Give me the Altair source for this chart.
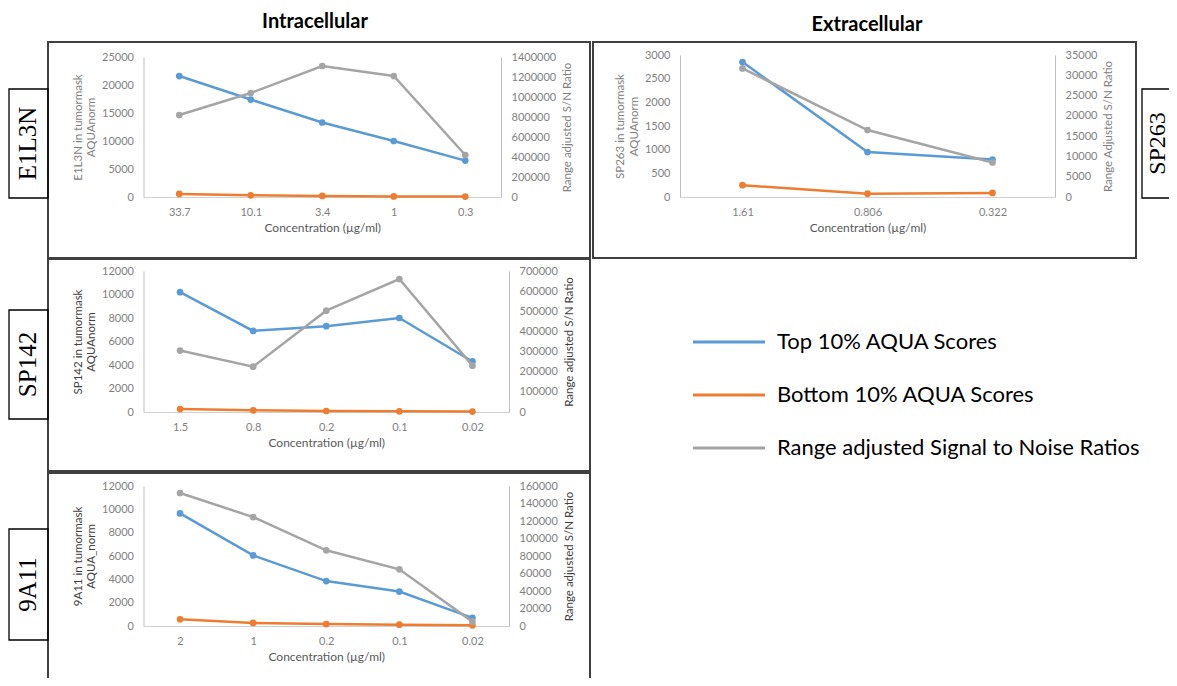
import altair as alt
import pandas as pd

# ---------------- data ----------------
series_names = ["Top 10% AQUA Scores", "Bottom 10% AQUA Scores",
                "Range adjusted Signal to Noise Ratios"]
series_colors = ["#5B9BD5", "#ED7D31", "#A5A5A5"]

e1l3n_conc = ["33.7", "10.1", "3.4", "1", "0.3"]
e1l3n_top = [21600, 17400, 13300, 10000, 6500]
e1l3n_bottom = [550, 300, 200, 100, 80]
e1l3n_snr = [820000, 1040000, 1310000, 1210000, 420000]
e1l3n_left_ticks = [0, 5000, 10000, 15000, 20000, 25000]
e1l3n_right_ticks = [0, 200000, 400000, 600000, 800000, 1000000, 1200000, 1400000]

sp263_conc = ["1.61", "0.806", "0.322"]
sp263_top = [2850, 950, 790]
sp263_bottom = [250, 70, 85]
sp263_snr = [31700, 16500, 8500]
sp263_left_ticks = [0, 500, 1000, 1500, 2000, 2500, 3000]
sp263_right_ticks = [0, 5000, 10000, 15000, 20000, 25000, 30000, 35000]

sp142_conc = ["1.5", "0.8", "0.2", "0.1", "0.02"]
sp142_top = [10200, 6900, 7300, 8000, 4300]
sp142_bottom = [250, 140, 85, 60, 40]
sp142_snr = [305000, 225000, 503000, 660000, 230000]
sp142_left_ticks = [0, 2000, 4000, 6000, 8000, 10000, 12000]
sp142_right_ticks = [0, 100000, 200000, 300000, 400000, 500000, 600000, 700000]

a9a11_conc = ["2", "1", "0.2", "0.1", "0.02"]
a9a11_top = [9650, 6050, 3850, 2950, 700]
a9a11_bottom = [570, 260, 170, 115, 60]
a9a11_snr = [152000, 124500, 86500, 64800, 5000]
a9a11_left_ticks = [0, 2000, 4000, 6000, 8000, 10000, 12000]
a9a11_right_ticks = [0, 20000, 40000, 60000, 80000, 100000, 120000, 140000, 160000]

# ---------------- layout ----------------
W, H = 1161, 670
FONT = "Lato"
AXIS_GRAY = "#BFBFBF"
LABEL_GRAY = "#7F7F7F"

color_enc = alt.Color("series:N",
                      scale=alt.Scale(domain=series_names, range=series_colors),
                      legend=None)


def panel(conc, top, bottom, snr, lticks, rticks, ltitle, rtitle, frame, title_color):
    x0, x1, yt, yb = frame
    n = len(conc)
    aqua_df = pd.DataFrame({
        "conc": conc + conc,
        "idx": list(range(n)) * 2,
        "series": [series_names[0]] * n + [series_names[1]] * n,
        "value": top + bottom,
    })
    snr_df = pd.DataFrame({
        "conc": conc,
        "idx": list(range(n)),
        "series": [series_names[2]] * n,
        "value": snr,
    })
    xscale = alt.Scale(type="point", domain=conc, range=[x0, x1], padding=0.5)
    line_kw = dict(strokeWidth=2.5,
                   point=alt.OverlayMarkDef(size=45, filled=True, opacity=1))
    aqua = alt.Chart(aqua_df).mark_line(**line_kw).encode(
        x=alt.X("conc:N", scale=xscale,
                axis=alt.Axis(orient="bottom", offset=yb - H, title="Concentration (µg/ml)",
                              labelAngle=0, ticks=False, domainColor="#D0D0D0",
                              labelColor=LABEL_GRAY, labelFont=FONT, labelFontSize=11,
                              labelPadding=9, titleFont=FONT, titleFontSize=12,
                              titleFontWeight="normal", titleColor="#595959",
                              titlePadding=5)),
        y=alt.Y("value:Q", scale=alt.Scale(domain=[0, lticks[-1]], range=[yb, yt]),
                axis=alt.Axis(orient="left", offset=-x0, values=lticks, format="d",
                              title=ltitle, grid=False, ticks=False,
                              domainColor=AXIS_GRAY, labelColor=LABEL_GRAY,
                              labelFont=FONT, labelFontSize=11, labelPadding=10,
                              labelFlush=False, labelOverlap=False,
                              titleFont=FONT, titleFontSize=11.5, titleFontWeight="normal",
                              titleColor=title_color, titlePadding=5)),
        color=color_enc,
        order=alt.Order("idx:Q"),
    )
    snr_layer = alt.Chart(snr_df).mark_line(**line_kw).encode(
        x=alt.X("conc:N", scale=xscale, axis=None),
        y=alt.Y("value:Q", scale=alt.Scale(domain=[0, rticks[-1]], range=[yb, yt]),
                axis=alt.Axis(orient="right", offset=x1 - W, values=rticks, format="d",
                              title=rtitle, grid=False, ticks=False,
                              domainColor=AXIS_GRAY, labelColor=LABEL_GRAY,
                              labelFont=FONT, labelFontSize=11, labelPadding=10,
                              labelFlush=False, labelOverlap=False,
                              titleFont=FONT, titleFontSize=11.5, titleFontWeight="normal",
                              titleColor=title_color, titlePadding=6,
                              titleAngle=270, titleBaseline="top")),
        color=color_enc,
        order=alt.Order("idx:Q"),
    )
    return [aqua, snr_layer]


def box(x, x2, y, y2, sw, col):
    return alt.Chart(alt.Data(values=[{}])).mark_rect(
        fill="white", fillOpacity=0, stroke=col, strokeWidth=sw
    ).encode(x=alt.value(x), x2=alt.value(x2), y=alt.value(y), y2=alt.value(y2))


def label(txt, x, y, size, font, weight="normal", angle=0):
    return alt.Chart(alt.Data(values=[{}])).mark_text(
        text=txt, font=font, fontSize=size, fontWeight=weight, angle=angle,
        align="center", baseline="middle", color="black"
    ).encode(x=alt.value(x), y=alt.value(y))


layers = []
# panel frames
layers += [
    box(40, 582, 34, 250, 2, "#404040"),
    box(585, 1128, 34, 250, 2, "#404040"),
    box(40, 582, 251, 463, 2, "#404040"),
    box(40, 582, 465, 700, 2, "#404040"),
]
# side label boxes
layers += [
    box(1, 40, 81, 190, 1.3, "#000000"),
    box(1134, 1180, 81, 190, 1.3, "#000000"),
    box(1, 40, 302, 411, 1.3, "#000000"),
    box(1, 40, 521, 632, 1.3, "#000000"),
]

layers += panel(e1l3n_conc, e1l3n_top, e1l3n_bottom, e1l3n_snr,
                e1l3n_left_ticks, e1l3n_right_ticks,
                ["E1L3N in tumormask", "AQUAnorm"], "Range adjusted S/N Ratio",
                (135.5, 493, 49, 189), "#7F7F7F")
layers += panel(sp263_conc, sp263_top, sp263_bottom, sp263_snr,
                sp263_left_ticks, sp263_right_ticks,
                ["SP263 in tumormask", "AQUAnorm"], "Range Adjusted S/N Ratio",
                (672, 1047, 47, 189), "#7F7F7F")
layers += panel(sp142_conc, sp142_top, sp142_bottom, sp142_snr,
                sp142_left_ticks, sp142_right_ticks,
                ["SP142 in tumormask", "AQUAnorm"], "Range adjusted S/N Ratio",
                (135.5, 501, 263, 404), "#404040")
layers += panel(a9a11_conc, a9a11_top, a9a11_bottom, a9a11_snr,
                a9a11_left_ticks, a9a11_right_ticks,
                ["9A11 in tumormask", "AQUA_norm"], "Range adjusted S/N Ratio",
                (135.5, 501, 478, 618), "#404040")

# titles
layers += [
    label("Intracellular", 307, 14, 20, FONT, "bold"),
    label("Extracellular", 859, 17, 20, FONT, "bold"),
    label("E1L3N", 20, 135.5, 25, "Liberation Serif", angle=270),
    label("SP263", 1150, 135.5, 24, "Liberation Serif", angle=270),
    label("SP142", 20, 356.5, 25, "Liberation Serif", angle=270),
    label("9A11", 20, 576.5, 25, "Liberation Serif", angle=270),
]

# legend
legend_df = pd.DataFrame({"series": series_names})
leg_y = alt.Y("series:N",
              scale=alt.Scale(type="point", domain=series_names, range=[334, 440], padding=0),
              axis=None)
layers += [
    alt.Chart(legend_df).mark_rule(strokeWidth=3).encode(
        x=alt.value(685), x2=alt.value(757), y=leg_y, color=color_enc),
    alt.Chart(legend_df).mark_text(align="left", baseline="middle", font=FONT,
                                   fontSize=22, color="black").encode(
        x=alt.value(769), y=leg_y, text="series:N"),
]

chart = alt.layer(*layers).resolve_scale(
    x="independent", y="independent"
).properties(
    width=W, height=H, autosize=alt.AutoSizeParams(type="none"), padding=0,
    background="white"
).configure_view(stroke=None)

chart.save("out.html", embed_options={"renderer": "svg", "actions": False})
